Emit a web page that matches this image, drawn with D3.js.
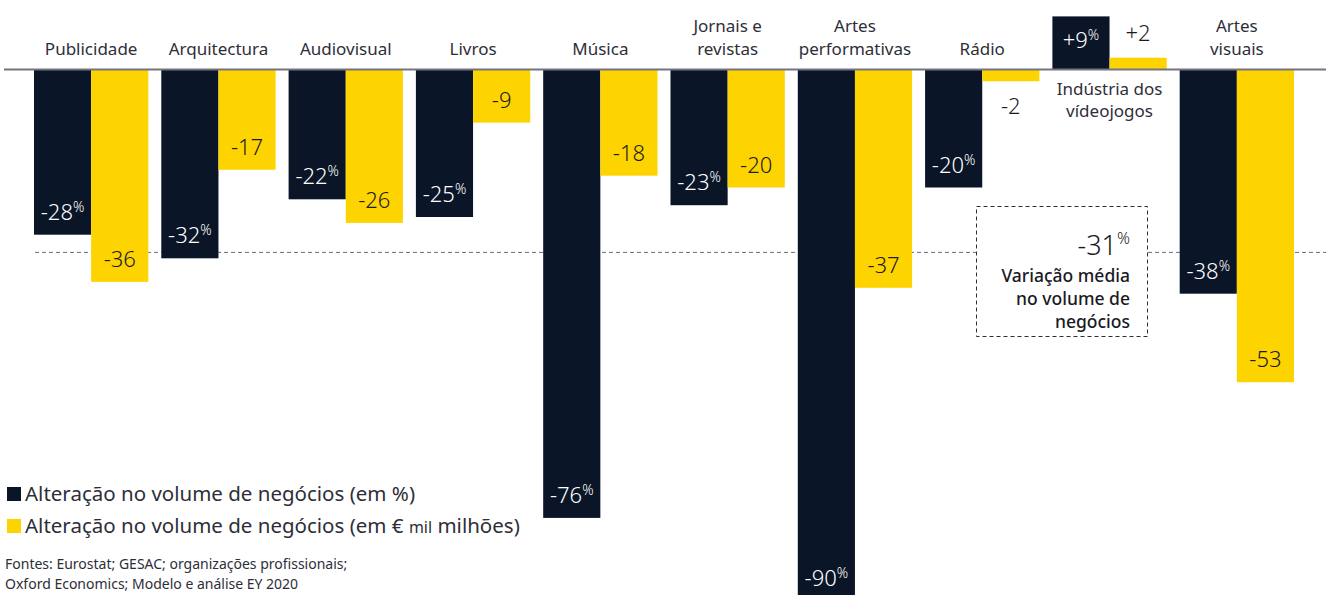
<!DOCTYPE html>
<html>
<head>
<meta charset="utf-8">
<script src="https://cdn.jsdelivr.net/npm/d3@7/dist/d3.min.js"></script>
<style>
  body { margin: 0; background: #fff; }
  svg text { font-family: "Noto Sans", sans-serif; }
</style>
</head>
<body>
<div id="chart"></div>
<script>
// data
var categories = ["Publicidade", "Arquitectura", "Audiovisual", "Livros", "Música",
  "Jornais e\nrevistas", "Artes\nperformativas", "Rádio", "Indústria dos\nvídeojogos", "Artes\nvisuais"];
var pctChange = [-28, -32, -22, -25, -76, -23, -90, -20, 9, -38];
var eurChange = [-36, -17, -26, -9, -18, -20, -37, -2, 2, -53];
var averageChange = -31;
var averageText = ["Variação média", "no volume de", "negócios"];
var legendLabels = ["Alteração no volume de negócios (em %)", "Alteração no volume de negócios (em € mil milhões)"];
var sourceLines = ["Fontes: Eurostat; GESAC; organizações profissionais;", "Oxford Economics; Modelo e análise EY 2020"];

var width = 1326, height = 595;
var dark = '#0a1527', yellow = '#fed400', textCol = '#2e2e38';

var svg = d3.select('#chart').append('svg')
  .attr('width', width)
  .attr('height', height);

var data = categories.map(function(c, i) {
  return {cat: c, pct: pctChange[i], eur: eurChange[i]};
});

var x0 = d3.scaleBand()
  .domain(categories)
  .range([34, 1294])
  .paddingInner(0.102)
  .paddingOuter(0);

var x1 = d3.scaleBand()
  .domain(['pct', 'eur'])
  .range([0, x0.bandwidth()]);

var y = d3.scaleLinear()
  .domain([0, -100])
  .range([69.5, 659.5]);

// average dashed line
svg.append('line')
  .attr('x1', 35).attr('x2', width)
  .attr('y1', y(averageChange)).attr('y2', y(averageChange))
  .attr('stroke', '#6b6b75')
  .attr('stroke-width', 1)
  .attr('stroke-dasharray', '4,3');

// bars
var groups = svg.selectAll('g.grp')
  .data(data)
  .enter().append('g')
  .attr('class', 'grp')
  .attr('transform', function(d) { return 'translate(' + x0(d.cat) + ',0)'; });

groups.append('rect')
  .attr('x', x1('pct'))
  .attr('width', x1.bandwidth())
  .attr('y', function(d) { return Math.min(y(d.pct), y(0)); })
  .attr('height', function(d) { return Math.abs(y(d.pct) - y(0)); })
  .attr('fill', dark);

groups.append('rect')
  .attr('x', x1('eur'))
  .attr('width', x1.bandwidth())
  .attr('y', function(d) { return Math.min(y(d.eur), y(0)); })
  .attr('height', function(d) { return Math.abs(y(d.eur) - y(0)); })
  .attr('fill', yellow);

function fmt(v) { return (v > 0 ? '+' : '') + v; }

// % labels, white, inside the dark bars
var pctLab = groups.append('text')
  .attr('x', x1('pct') + x1.bandwidth() / 2)
  .attr('y', function(d) { return d.pct < 0 ? y(d.pct) - 15 : y(d.pct) + 32; })
  .attr('text-anchor', 'middle')
  .attr('fill', '#fff')
  .attr('font-size', 22)
  .attr('font-weight', 300);
pctLab.append('tspan').text(function(d) { return fmt(d.pct); });
pctLab.append('tspan').attr('font-size', 14).attr('dy', -8).text('%');

// € labels
groups.append('text')
  .attr('x', x1('eur') + x1.bandwidth() / 2)
  .attr('y', function(d) {
    var h = Math.abs(y(d.eur) - y(0));
    if (d.eur > 0) return y(d.eur) - 17;
    if (h < 40) return y(d.eur) + 33;
    return y(d.eur) - 15;
  })
  .attr('text-anchor', 'middle')
  .attr('fill', '#1a1a24')
  .attr('font-size', 22)
  .attr('font-weight', 300)
  .text(function(d) { return fmt(d.eur); });

// category names
groups.each(function(d) {
  var lines = d.cat.split('\n');
  var up = d.pct < 0;
  var t = d3.select(this).append('text')
    .attr('text-anchor', 'middle')
    .attr('fill', textCol)
    .attr('font-size', 17);
  lines.forEach(function(l, i) {
    var yy = up ? 55 - (lines.length - 1 - i) * 23 : 95 + i * 22;
    t.append('tspan')
      .attr('x', x0.bandwidth() / 2)
      .attr('y', yy)
      .text(l);
  });
});

// zero line
svg.append('line')
  .attr('x1', 4).attr('x2', width)
  .attr('y1', y(0)).attr('y2', y(0))
  .attr('stroke', '#747480')
  .attr('stroke-width', 2);

// average box
var box = svg.append('g');
box.append('rect')
  .attr('x', 976.5).attr('y', 206.5)
  .attr('width', 171).attr('height', 130)
  .attr('fill', '#fff')
  .attr('stroke', '#2e2e38')
  .attr('stroke-width', 1)
  .attr('stroke-dasharray', '4,3');

var avg = box.append('text')
  .attr('x', 1130).attr('y', 255)
  .attr('text-anchor', 'end')
  .attr('fill', '#1a1a24')
  .attr('font-size', 27)
  .attr('font-weight', 300);
avg.append('tspan').text(averageChange);
avg.append('tspan').attr('font-size', 16).attr('dy', -11).text('%');

box.selectAll('text.avgTxt')
  .data(averageText)
  .enter().append('text')
  .attr('class', 'avgTxt')
  .attr('x', 1130)
  .attr('y', function(d, i) { return 282 + i * 23; })
  .attr('text-anchor', 'end')
  .attr('fill', '#1a1a24')
  .attr('font-size', 17.5)
  .attr('font-weight', 500)
  .text(function(d) { return d; });

// legend
var legend = svg.append('g');
legendLabels.forEach(function(l, i) {
  legend.append('rect')
    .attr('x', 7).attr('y', 487 + i * 32)
    .attr('width', 14).attr('height', 14)
    .attr('fill', i === 0 ? dark : yellow);
  var t = legend.append('text')
    .attr('x', 25).attr('y', 501 + i * 32)
    .attr('fill', textCol)
    .attr('font-size', 20.5);
  if (l.indexOf(' mil ') > -1) {
    var parts = l.split(' mil ');
    t.append('tspan').text(parts[0] + ' ');
    t.append('tspan').attr('font-size', 16).text('mil');
    t.append('tspan').text(' ' + parts[1]);
  } else {
    t.text(l);
  }
});

// sources
svg.selectAll('text.src')
  .data(sourceLines)
  .enter().append('text')
  .attr('class', 'src')
  .attr('x', 5)
  .attr('y', function(d, i) { return 569 + i * 20; })
  .attr('fill', textCol)
  .attr('font-size', 14)
  .text(function(d) { return d; });
</script>
</body>
</html>
